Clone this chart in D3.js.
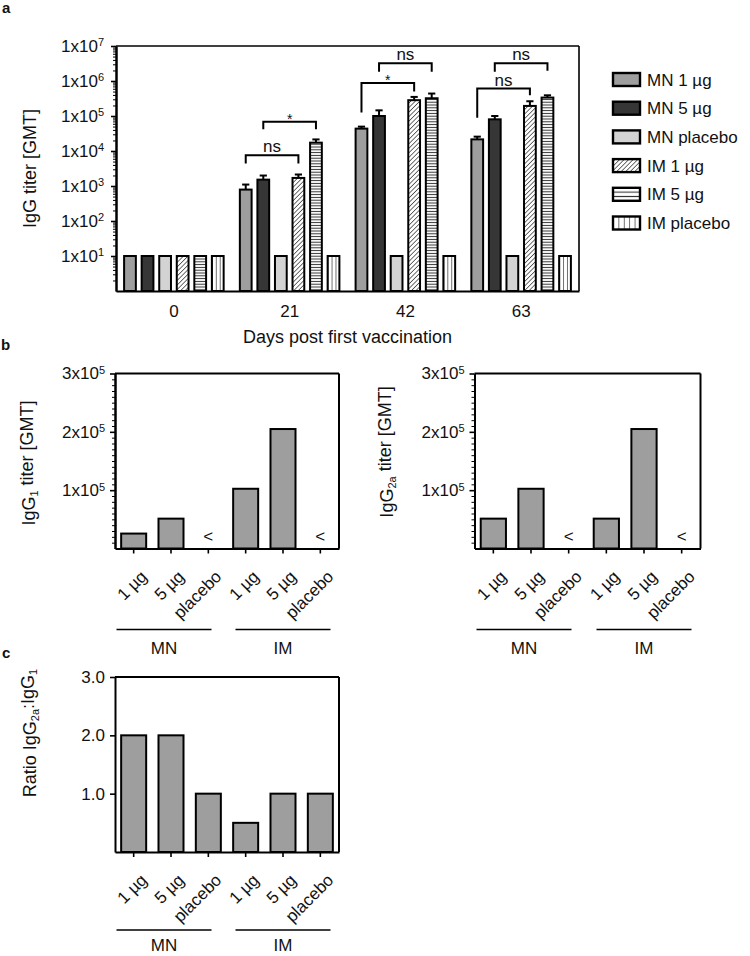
<!DOCTYPE html>
<html>
<head>
<meta charset="utf-8">
<script src="https://d3js.org/d3.v7.min.js"></script>
<style>
    body {margin: 0; background: #fff;}
    svg text {font-family: "Liberation Sans", Arial, Helvetica, sans-serif; fill: #111;}
    .axis path, .axis line {stroke: #000;}
</style>
</head>
<body>
<svg id="fig" width="750" height="956"></svg>
<script>
    // ---- panel a: IgG titers (GMT) per day
    let days = ["0", "21", "42", "63"];
    let groupNames = ["MN 1 µg", "MN 5 µg", "MN placebo", "IM 1 µg", "IM 5 µg", "IM placebo"];
    let mn1 = [10, 790, 43600, 21500];
    let mn5 = [10, 1520, 100000, 80300];
    let mnPlacebo = [10, 10, 10, 10];
    let im1 = [10, 1700, 283000, 194000];
    let im5 = [10, 17300, 321000, 336000];
    let imPlacebo = [10, 10, 10, 10];
    // upper end of error bars
    let mn1Err = [null, 1100, 49700, 25700];
    let mn5Err = [null, 1990, 145000, 100000];
    let im1Err = [null, 2130, 351000, 264000];
    let im5Err = [null, 21400, 438000, 390000];
    let logTicks = [1e1, 1e2, 1e3, 1e4, 1e5, 1e6, 1e7];

    // significance brackets (values in titer units)
    let bracketDay = ["21", "21", "42", "42", "63", "63"];
    let bracketFrom = [0, 1, 0, 1, 0, 1];
    let bracketTo = [3, 4, 3, 4, 3, 4];
    let bracketTop = [7600, 69000, 870000, 3.24e6, 6.1e5, 3.24e6];
    let bracketLegL = [4400, 41600, 125000, 1.83e6, 89000, 1.83e6];
    let bracketLegR = [4400, 41600, 500000, 1.83e6, 390000, 1.95e6];
    let bracketLabel = ["ns", "*", "*", "ns", "ns", "ns"];

    // ---- panels b and c
    let subLabels = ["1 µg", "5 µg", "placebo", "1 µg", "5 µg", "placebo"];
    let routes = ["MN", "IM"];
    let igg1 = [25600, 51200, null, 102400, 204800, null];
    let igg2a = [51200, 102400, null, 51200, 204800, null];
    let ratio = [2, 2, 1, 0.5, 1, 1];
    let titerTicks = [1e5, 2e5, 3e5];
    let ratioTicks = [1, 2, 3];

    let svg = d3.select("#fig");
    let fam = '"Liberation Sans", Arial, Helvetica, sans-serif';

    // patterns
    let defs = svg.append("defs");
    function linePattern(id, w, h, rot, x1, y1, x2, y2, sw) {
        let p = defs.append("pattern").attr("id", id)
            .attr("patternUnits", "userSpaceOnUse")
            .attr("width", w).attr("height", h);
        if (rot) p.attr("patternTransform", "rotate(" + rot + ")");
        p.append("rect").attr("width", w).attr("height", h).attr("fill", "#fff");
        p.append("line").attr("x1", x1).attr("y1", y1).attr("x2", x2).attr("y2", y2)
            .attr("stroke", "#333").attr("stroke-width", sw);
    }
    linePattern("diag", 3.2, 3.2, 45, 0, 0, 0, 3.2, 1.4);
    linePattern("hor", 4, 2.8, 0, 0, 1.4, 4, 1.4, 1);
    linePattern("horL", 4, 4.4, 0, 0, 2.2, 4, 2.2, 1.1);
    function vertPattern(id, frac) {
        let p = defs.append("pattern").attr("id", id)
            .attr("patternUnits", "objectBoundingBox")
            .attr("width", frac).attr("height", 1);
        p.append("rect").attr("width", 100).attr("height", 1000).attr("fill", "#fff");
        p.append("line").attr("x1", 0).attr("x2", 0).attr("y1", 0).attr("y2", 1000)
            .attr("stroke", "#333").attr("stroke-width", 1.4);
    }
    vertPattern("ver", 1 / 3);
    vertPattern("verL", 0.2);

    let fills = ["#9e9e9e", "#363636", "#d3d3d3", "url(#diag)", "url(#hor)", "url(#ver)"];
    let legendFills = ["#9e9e9e", "#363636", "#d3d3d3", "url(#diag)", "url(#horL)", "url(#verL)"];

    function styleAxis(g, size) {
        g.attr("class", "axis").attr("font-family", fam).attr("font-size", size);
        g.select(".domain").attr("stroke-width", 2);
        g.selectAll(".tick line").attr("stroke-width", 1.6);
        g.selectAll(".tick text").attr("fill", "#111");
    }

    function panelLabel(t, x, y) {
        svg.append("text").attr("x", x).attr("y", y)
            .attr("font-size", 15).attr("font-weight", "bold").text(t);
    }

    // =========== panel a ===========
    let aL = 116, aR = 579, aT = 46, aB = 291;
    let x0 = d3.scaleBand().domain(days).range([aL, aR]).paddingInner(0.14).paddingOuter(0.07);
    let x1 = d3.scaleBand().domain(d3.range(6)).range([0, x0.bandwidth()]).paddingInner(0.33);
    let ya = d3.scaleLog().domain([1, 1e7]).range([aB, aT]);

    let series = [mn1, mn5, mnPlacebo, im1, im5, imPlacebo];
    let errs = [mn1Err, mn5Err, null, im1Err, im5Err, null];

    let gA = svg.append("g");
    // frame top/right
    gA.append("line").attr("x1", aL).attr("x2", aR).attr("y1", aT).attr("y2", aT)
        .attr("stroke", "#000").attr("stroke-width", 1.6);
    gA.append("line").attr("x1", aR).attr("x2", aR).attr("y1", aT).attr("y2", aB)
        .attr("stroke", "#000").attr("stroke-width", 1.6);

    let barData = [];
    days.forEach(function(day, i) {
        series.forEach(function(s, k) {
            barData.push({day: day, k: k, v: s[i], err: errs[k] ? errs[k][i] : null});
        });
    });

    // error bars (drawn first so bars cover the stem base)
    let withErr = barData.filter(d => d.err);
    gA.selectAll(".err").data(withErr).enter().append("line")
        .attr("x1", d => x0(d.day) + x1(d.k) + x1.bandwidth() / 2)
        .attr("x2", d => x0(d.day) + x1(d.k) + x1.bandwidth() / 2)
        .attr("y1", d => ya(d.v)).attr("y2", d => ya(d.err))
        .attr("stroke", "#000").attr("stroke-width", 2);
    gA.selectAll(".cap").data(withErr).enter().append("line")
        .attr("x1", d => x0(d.day) + x1(d.k) + x1.bandwidth() / 2 - 3.6)
        .attr("x2", d => x0(d.day) + x1(d.k) + x1.bandwidth() / 2 + 3.6)
        .attr("y1", d => ya(d.err)).attr("y2", d => ya(d.err))
        .attr("stroke", "#000").attr("stroke-width", 2);

    gA.selectAll(".bar").data(barData).enter().append("rect")
        .attr("x", d => x0(d.day) + x1(d.k))
        .attr("y", d => ya(d.v))
        .attr("width", x1.bandwidth())
        .attr("height", d => ya(1) - ya(d.v))
        .attr("fill", d => fills[d.k])
        .attr("stroke", "#000").attr("stroke-width", 2);

    // brackets
    bracketLabel.forEach(function(lab, i) {
        let xl = x0(bracketDay[i]) + x1(bracketFrom[i]) + x1.bandwidth() / 2;
        let xr = x0(bracketDay[i]) + x1(bracketTo[i]) + x1.bandwidth() / 2;
        let yt = ya(bracketTop[i]);
        gA.append("path")
            .attr("d", "M" + xl + "," + ya(bracketLegL[i]) + "V" + yt + "H" + xr + "V" + ya(bracketLegR[i]))
            .attr("fill", "none").attr("stroke", "#000").attr("stroke-width", 2);
        gA.append("text").attr("x", (xl + xr) / 2)
            .attr("y", lab === "*" ? yt + 2 : yt - 3)
            .attr("text-anchor", "middle")
            .attr("font-size", lab === "*" ? 14 : 17)
            .text(lab);
    });

    // axes
    let minorLog = [];
    for (let d = 0; d < 7; d++) for (let m = 2; m < 10; m++) minorLog.push(m * Math.pow(10, d));
    gA.append("g").attr("transform", "translate(" + aL + ",0)")
        .call(d3.axisLeft(ya).tickValues(minorLog).tickSize(3).tickSizeOuter(0).tickFormat(""))
        .call(g => styleAxis(g, 17))
        .call(g => g.selectAll(".tick line").attr("stroke-width", 1));
    gA.append("g").attr("transform", "translate(" + aL + ",0)")
        .call(d3.axisLeft(ya).tickValues(logTicks).tickSize(5).tickSizeOuter(0).tickPadding(7)
            .tickFormat(() => "1x10"))
        .call(g => styleAxis(g, 17))
        .call(g => g.selectAll(".tick text").append("tspan")
            .attr("dy", "-0.5em").attr("font-size", 11).text(d => Math.round(Math.log10(d))));
    gA.append("g").attr("transform", "translate(0," + aB + ")")
        .call(d3.axisBottom(x0).tickSize(0).tickSizeOuter(0).tickPadding(14))
        .call(g => styleAxis(g, 17));

    gA.append("text").attr("transform", "translate(35.5," + ((aT + aB) / 2) + ") rotate(-90)")
        .attr("text-anchor", "middle").attr("font-size", 18).text("IgG titer [GMT]");
    gA.append("text").attr("x", (aL + aR) / 2).attr("y", 343)
        .attr("text-anchor", "middle").attr("font-size", 18).text("Days post first vaccination");

    // legend
    let legY = d3.scaleLinear().domain([0, 5]).range([79.5, 223]);
    let leg = gA.selectAll(".leg").data(groupNames).enter().append("g")
        .attr("transform", (d, i) => "translate(613," + legY(i) + ")");
    leg.append("rect").attr("x", 0).attr("y", -6.5).attr("width", 27).attr("height", 13)
        .attr("fill", (d, i) => legendFills[i]).attr("stroke", "#000").attr("stroke-width", 2.4);
    leg.append("text").attr("x", 34).attr("y", 6).attr("font-size", 17).text(d => d);

    panelLabel("a", 2, 13);

    // =========== panels b / c ===========
    function barPanel(o) {
        let g = svg.append("g");
        let x = d3.scaleBand().domain(d3.range(6)).range([o.left, o.right])
            .paddingInner(0.33).paddingOuter(0.165);
        let y = d3.scaleLinear().domain([0, o.max]).range([o.bottom, o.top]);
        let data = o.values.map((v, i) => ({v: v, i: i}));

        g.append("line").attr("x1", o.left).attr("x2", o.right).attr("y1", o.top).attr("y2", o.top)
            .attr("stroke", "#000").attr("stroke-width", 2);
        g.append("line").attr("x1", o.right).attr("x2", o.right).attr("y1", o.top).attr("y2", o.bottom)
            .attr("stroke", "#000").attr("stroke-width", 2);

        g.selectAll(".bar").data(data.filter(d => d.v != null)).enter().append("rect")
            .attr("x", d => x(d.i)).attr("y", d => y(d.v))
            .attr("width", x.bandwidth()).attr("height", d => y(0) - y(d.v))
            .attr("fill", "#9e9e9e").attr("stroke", "#000").attr("stroke-width", 2);
        g.selectAll(".lt").data(data.filter(d => d.v == null)).enter().append("text")
            .attr("x", d => x(d.i) + x.bandwidth() / 2).attr("y", o.bottom - 7)
            .attr("text-anchor", "middle").attr("font-size", 17).text("<");

        if (o.minor) {
            g.append("g").attr("transform", "translate(" + o.left + ",0)")
                .call(d3.axisLeft(y).tickValues(o.minor).tickSize(3).tickSizeOuter(0).tickFormat(""))
                .call(a => styleAxis(a, 17))
                .call(a => a.selectAll(".tick line").attr("stroke-width", 1));
        }
        g.append("g").attr("transform", "translate(" + o.left + ",0)")
            .call(d3.axisLeft(y).tickValues(o.ticks).tickSize(5).tickSizeOuter(0).tickPadding(5)
                .tickFormat(o.fmt))
            .call(a => styleAxis(a, 17))
            .call(a => { if (o.sup) a.selectAll(".tick text").append("tspan")
                .attr("dy", "-0.5em").attr("font-size", 11).text(o.sup); });
        g.append("g").attr("transform", "translate(0," + o.bottom + ")")
            .call(d3.axisBottom(x).tickSize(5).tickSizeOuter(0).tickFormat(""))
            .call(a => styleAxis(a, 17));

        g.selectAll(".xl").data(subLabels).enter().append("text")
            .attr("transform", (d, i) => "translate(" + (x(i) + x.bandwidth() / 2 + 10) + "," + (o.bottom + 25) + ") rotate(-45)")
            .attr("text-anchor", "end").attr("dy", "0.35em").attr("font-size", 17).text(d => d);

        // route group lines
        let shift = [-7, 0];
        routes.forEach(function(r, j) {
            let cx = x(j * 3 + 1) + x.bandwidth() / 2 + shift[j];
            g.append("line").attr("x1", cx - 47.5).attr("x2", cx + 47.5)
                .attr("y1", o.bottom + o.lineOff).attr("y2", o.bottom + o.lineOff)
                .attr("stroke", "#000").attr("stroke-width", 1.4);
            g.append("text").attr("x", cx).attr("y", o.bottom + o.textOff)
                .attr("text-anchor", "middle").attr("font-size", 17).text(r);
        });

        let t = g.append("text").attr("transform", "translate(" + o.titleX + "," + o.titleY + ") rotate(-90)")
            .attr("text-anchor", "middle").attr("font-size", 18);
        t.append("tspan").text(o.title[0]);
        t.append("tspan").attr("dy", "0.3em").attr("font-size", 11).text(o.title[1]);
        t.append("tspan").attr("dy", "-0.3em").text(o.title[2]);
        if (o.title.length > 3) {
            t.append("tspan").attr("dy", "0.3em").attr("font-size", 11).text(o.title[3]);
        }
    }

    let minorTiter = d3.range(1e4, 3e5, 1e4).filter(v => v % 1e5 !== 0);

    barPanel({left: 115, right: 339, top: 373.5, bottom: 548.5, max: 3e5, values: igg1,
        ticks: titerTicks, fmt: d => (d / 1e5) + "x10", sup: "5", minor: minorTiter,
        lineOff: 81, textOff: 105,
        title: ["IgG", "1", " titer [GMT]"], titleX: 35, titleY: 463});
    barPanel({left: 474.5, right: 700.5, top: 373.5, bottom: 548.5, max: 3e5, values: igg2a,
        ticks: titerTicks, fmt: d => (d / 1e5) + "x10", sup: "5", minor: minorTiter,
        lineOff: 81, textOff: 105,
        title: ["IgG", "2a", " titer [GMT]"], titleX: 393, titleY: 452});
    barPanel({left: 115, right: 339, top: 677, bottom: 852, max: 3, values: ratio,
        ticks: ratioTicks, fmt: d3.format(".1f"), sup: null, minor: null,
        lineOff: 78, textOff: 99,
        title: ["Ratio IgG", "2a", ":IgG", "1"], titleX: 36, titleY: 733});

    panelLabel("b", 1, 350);
    panelLabel("c", 2, 658);
</script>
</body>
</html>
